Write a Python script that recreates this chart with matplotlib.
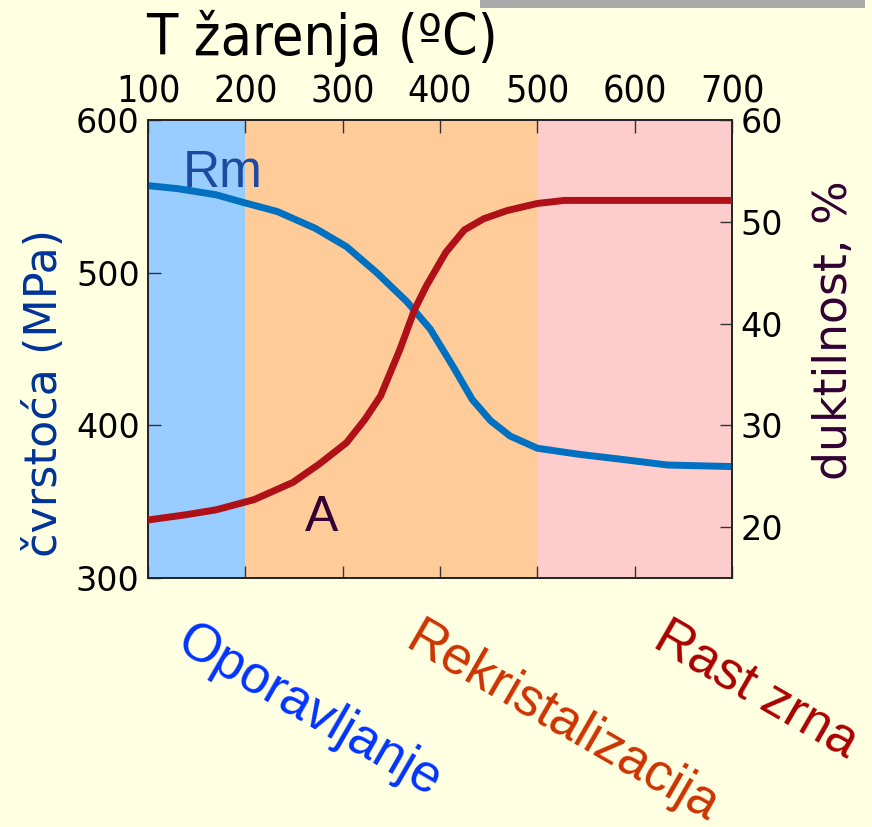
import matplotlib
matplotlib.use('Agg')
import matplotlib.pyplot as plt
from matplotlib.patches import Rectangle
from matplotlib import font_manager

# data
temp_rm = [100, 131, 170, 198, 233, 272, 304, 335, 366, 390, 413, 433, 452, 472, 500, 543, 583, 634, 700]
rm = [557, 555, 551, 546, 540, 529, 517, 500, 481, 463, 439, 417, 403, 393, 385, 381, 378, 374, 373]

temp_a = [100, 138, 170, 209, 249, 276, 304, 323, 339, 359, 374, 386, 406, 425, 445, 469, 500, 528, 700]
a = [20.7, 21.2, 21.7, 22.7, 24.4, 26.2, 28.3, 30.6, 32.9, 37.5, 41.4, 43.7, 47.0, 49.2, 50.3, 51.1, 51.8, 52.1, 52.1]

regions = [(100, 200, '#99CCFF'), (200, 500, '#FFCC99'), (500, 700, '#FFCCCC')]
region_labels = ['Oporavljanje', 'Rekristalizacija', 'Rast zrna']
region_colors = ['#0033FF', '#CC3300', '#AA0000']

x_ticks = [100, 200, 300, 400, 500, 600, 700]
left_ticks = [300, 400, 500, 600]
right_ticks = [20, 30, 40, 50, 60]

# narrow font for the temperature axis, if there is one
names = {f.name for f in font_manager.fontManager.ttflist}
stretches = {(f.name, f.stretch) for f in font_manager.fontManager.ttflist}
if 'Liberation Sans Narrow' in names:
    narrow = dict(family='Liberation Sans Narrow')
elif ('DejaVu Sans', 'condensed') in stretches or ('DejaVu Sans', 'semi-condensed') in stretches:
    narrow = dict(family='DejaVu Sans', stretch='condensed')
else:
    narrow = dict(family='Liberation Sans')

bg = '#FFFFE1'
fig = plt.figure(figsize=(8.72, 8.27), dpi=100, facecolor=bg)
ax = fig.add_axes([148/872, 1-578/827, 584/872, 458/827])

for x0, x1, c in regions:
    ax.axvspan(x0, x1, color=c, lw=0, zorder=0)

ax.plot(temp_rm, rm, color='#0070C0', lw=5, solid_capstyle='butt', zorder=3)
ax.set_xlim(100, 700)
ax.set_ylim(300, 600)
ax.set_xticks(x_ticks)
ax.set_yticks(left_ticks)
ax.tick_params(axis='x', direction='in', top=True, bottom=True, labeltop=True, labelbottom=False,
               length=9, width=1, color='#333333', pad=7)
ax.tick_params(axis='y', direction='in', length=9, width=1, color='#333333', pad=6)
for lab in ax.get_xticklabels():
    lab.set(**narrow)
    lab.set_fontsize(27)
for lab in ax.get_yticklabels():
    lab.set_fontfamily('DejaVu Sans')
    lab.set_fontsize(24)
ax.set_ylabel('čvrstoća (MPa)', fontsize=32, color='#003399')
ax.yaxis.set_label_coords(-0.14, 0.405)
fig.text(146/872, 1-10/827, 'T žarenja (ºC)', fontsize=41, va='top', ha='left', **narrow)

ax2 = ax.twinx()
ax2.plot(temp_a, a, color='#B01018', lw=5, solid_capstyle='butt', zorder=3)
ax2.set_ylim(15, 60)
ax2.set_yticks(right_ticks)
ax2.tick_params(axis='y', direction='in', length=9, width=1, color='#333333', pad=6, labelsize=24)
ax2.set_ylabel('duktilnost, %', fontsize=33, color='#330033')
ax2.yaxis.set_label_coords(1.137, 0.54)

for spine in list(ax.spines.values()) + list(ax2.spines.values()):
    spine.set_color('#222222')
    spine.set_linewidth(1.2)

ax.text(136, 556, 'Rm', fontsize=37, color='#1A4BA0', family='Liberation Sans', va='baseline')
ax.text(261, 331, 'A', fontsize=36, color='#330033', family='Liberation Sans', va='baseline')

# rotated stage names under the plot
label_pos = [(309/872, 1-711/827), (562/872, 1-723/827), (756/872, 1-690/827)]
for (fx, fy), txt, c in zip(label_pos, region_labels, region_colors):
    fig.text(fx, fy, txt, rotation=-30, ha='center', va='center', fontsize=38,
             color=c, family='Liberation Sans', rotation_mode='anchor')

# grey bar at the top right
fig.patches.append(Rectangle((480/872, 1-8/827), 385/872, 8/827, transform=fig.transFigure,
                             color='#AAAAAA', lw=0))

fig.savefig('out.png', dpi=100, facecolor=bg)
